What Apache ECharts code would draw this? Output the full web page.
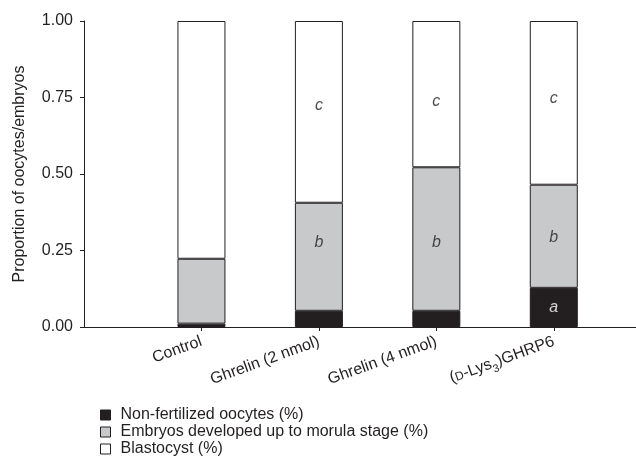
<!DOCTYPE html>
<html>
<head>
<meta charset="utf-8">
<script src="https://cdn.jsdelivr.net/npm/echarts@6/dist/echarts.min.js"></script>
<style>
    html, body { margin: 0; padding: 0; background: #fff; }
    #main { width: 636px; height: 463px; }
</style>
</head>
<body>
<div id="main"></div>
<script>
// groups, placed at x = 1..4 on the axis ({sc|D} = small-cap D)
var categories = ["Control", "Ghrelin (2 nmol)", "Ghrelin (4 nmol)", "({sc|D}-Lys{sub|3})GHRP6"];
var groupPos = [1, 2, 3, 4];
// proportions
var nonFertilized = [0.011, 0.053, 0.053, 0.128];
var morula = [0.212, 0.353, 0.469, 0.337];
var blastocyst = [0.777, 0.594, 0.478, 0.535];
// significance letters: text, group, level on the y scale
var letterText = ["c", "c", "c", "b", "b", "b", "a"];
var letterGroup = [2, 3, 4, 2, 3, 4, 4];
var letterLevel = [0.725, 0.736, 0.747, 0.275, 0.275, 0.292, 0.063];

var ink = "#231f20";
var font = "'Liberation Sans', Arial, sans-serif";

// value first so the stack runs on y (x is a value axis too)
function pairs(vals) {
    return vals.map(function (v, i) { return [v, groupPos[i]]; });
}
function barSeries(name, vals, color) {
    return {
        name: name,
        type: "bar",
        stack: "all",
        barWidth: 48,
        encode: { x: 1, y: 0 },
        data: pairs(vals),
        itemStyle: { color: color, borderColor: ink, borderWidth: 1 },
        silent: true
    };
}

var chartDom = document.getElementById("main");
var myChart = echarts.init(chartDom);
var option = {
    animation: false,
    textStyle: { fontFamily: font, color: ink },
    grid: { left: 84, right: 0, top: 21, bottom: 136 },
    legend: {
        orient: "vertical",
        left: 100,
        top: 407,
        height: 56,
        padding: 0,
        itemWidth: 10,
        itemHeight: 10,
        itemGap: 1,
        icon: "rect",
        textStyle: { fontFamily: font, fontSize: 16, color: ink, padding: [0, 0, 0, 5] },
        itemStyle: { borderColor: ink, borderWidth: 1 },
        data: ["Non-fertilized oocytes (%)", "Embryos developed up to morula stage (%)", "Blastocyst (%)"]
    },
    xAxis: {
        type: "value",
        min: 0,
        max: 4.7,
        interval: 1,
        splitLine: { show: false },
        axisLine: { show: true, lineStyle: { color: ink, width: 1 } },
        axisTick: {
            show: true,
            length: 4,
            lineStyle: { color: ink },
            customValues: groupPos
        },
        axisLabel: {
            rotate: 20,
            margin: 14,
            fontSize: 16,
            color: ink,
            fontFamily: font,
            customValues: groupPos,
            formatter: function (v) { return categories[v - 1] || ""; },
            rich: {
                sc: { fontSize: 12, fontFamily: font, color: ink, verticalAlign: "bottom", padding: [0, 0, 1, 0] },
                sub: { fontSize: 11, fontFamily: font, color: ink, verticalAlign: "bottom", padding: [0, 0, -4, 0] }
            }
        }
    },
    yAxis: {
        type: "value",
        min: 0,
        max: 1,
        interval: 0.25,
        name: "Proportion of oocytes/embryos",
        nameLocation: "middle",
        nameGap: 56,
        nameTextStyle: { fontSize: 16, color: ink, fontFamily: font },
        splitLine: { show: false },
        axisLine: { show: true, lineStyle: { color: ink, width: 1 } },
        axisTick: { show: true, length: 4, lineStyle: { color: ink } },
        axisLabel: {
            margin: 11,
            fontSize: 16,
            color: ink,
            fontFamily: font,
            formatter: function (v) { return v.toFixed(2); }
        }
    },
    series: [
        barSeries("Non-fertilized oocytes (%)", nonFertilized, ink),
        barSeries("Embryos developed up to morula stage (%)", morula, "#c8c9cb"),
        barSeries("Blastocyst (%)", blastocyst, "#ffffff"),
        {
            type: "scatter",
            symbolSize: 0,
            silent: true,
            z: 5,
            data: letterText.map(function (t, i) {
                return {
                    value: [letterGroup[i], letterLevel[i]],
                    label: { color: t === "a" ? "#ffffff" : ink }
                };
            }),
            label: {
                show: true,
                position: "inside",
                fontStyle: "italic",
                fontSize: 16,
                fontFamily: font,
                formatter: function (p) { return letterText[p.dataIndex]; }
            }
        }
    ]
};
option && myChart.setOption(option);
</script>
</body>
</html>
